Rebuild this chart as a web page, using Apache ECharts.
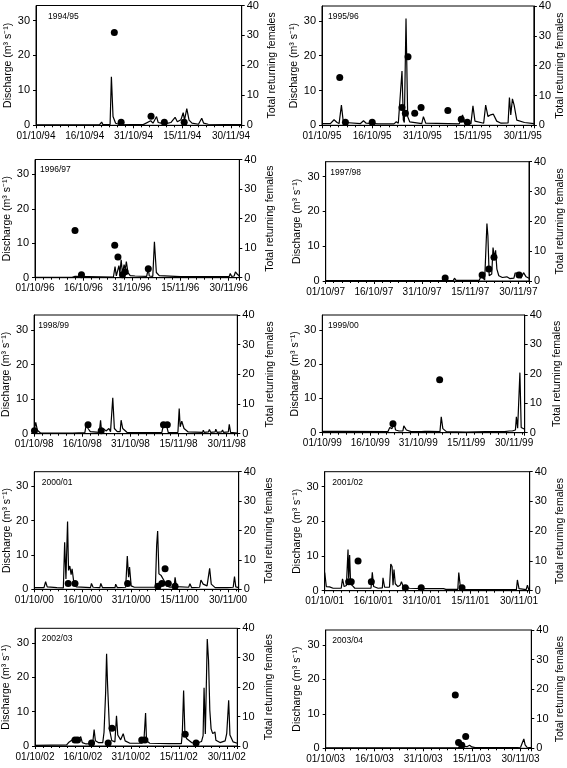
<!DOCTYPE html>
<html>
<head>
<meta charset="utf-8">
<script src="https://cdn.jsdelivr.net/npm/echarts@6/dist/echarts.min.js"></script>
<style>
html, body { margin: 0; padding: 0; background: #fff; }
#chart { width: 567px; height: 768px; }
</style>
</head>
<body>
<div id="chart"></div>
<script>
// season labels and x tick labels (days counted from 01/10)
const seasons = ['1994/95', '1995/96', '1996/97', '1997/98', '1998/99', '1999/00', '2000/01', '2001/02', '2002/03', '2003/04']
const yearSuffix = ['94', '95', '96', '97', '98', '99', '00', '01', '02', '03']
const tickDays = [0, 15, 30, 45, 60]
const tickDates = ['01/10', '16/10', '31/10', '15/11', '30/11']

// discharge [day, m3/s]
const flow9495 = [[0,0.1],[19.5,0.1],[20.2,0.9],[20.6,0.2],[22.8,0.2],[23.2,13.9],[23.7,2.5],[24.5,0.6],[25.5,0.3],[33,0.2],[35.3,1.3],[36,0.6],[37.1,2.5],[37.6,0.8],[38.5,0.6],[39.2,1.2],[40,0.5],[41.5,0.8],[42.8,2.3],[43.5,1.0],[44.6,1.6],[45.3,3.6],[45.7,1.5],[46.4,4.8],[47.1,1.5],[48,0.6],[50,0.3],[51,2.0],[51.6,0.6],[53,0.3],[63.3,0.2]]
const flow9596 = [[0,0.5],[2.5,0.5],[3.6,1.6],[4.5,0.8],[5.1,0.5],[5.8,5.8],[6.3,1.5],[7,0.8],[11.5,0.5],[12.4,1.3],[13.2,0.6],[16.8,0.4],[21.5,0.4],[22.2,1.0],[22.8,0.6],[23.9,15.6],[24.3,1.5],[24.6,0.8],[25.1,30.7],[25.6,2.5],[26.2,1.0],[29.8,0.5],[30.3,2.5],[31,0.6],[41,0.4],[42,3.0],[42.5,0.8],[44.5,0.5],[45.1,5.6],[45.7,1.2],[48.3,0.6],[48.9,5.8],[49.6,2.5],[50.4,3.0],[51.2,3.2],[52.2,1.2],[53.5,0.6],[55.6,0.7],[56,8.0],[56.4,3.0],[56.9,7.6],[57.4,5.8],[58.2,1.5],[60.5,0.8],[63.3,0.5]]
const flow9697 = [[0,0.1],[11.5,0.1],[12.4,0.4],[13,0.1],[24.3,0.2],[24.8,3.2],[25.2,0.5],[26,3.5],[26.3,1.2],[26.7,5.2],[27.1,1.2],[27.6,3.8],[28,2.5],[28.3,4.7],[28.8,1.5],[29.5,0.6],[31,0.5],[34.6,0.4],[35.1,2.7],[35.4,0.5],[36.5,0.4],[37,10.4],[37.6,1.5],[38.5,0.6],[45,0.3],[56.5,0.3],[56.8,0.8],[57.3,0.3],[60.2,0.4],[60.5,1.2],[60.9,0.4],[61.7,0.5],[62.1,1.7],[62.7,1.0],[63.3,0.5]]
const flow9798 = [[0,0.1],[39.7,0.1],[40.1,0.8],[40.6,0.2],[47.8,0.2],[48.4,1.4],[49.5,0.3],[50.2,16.5],[50.5,13],[50.9,1.5],[51.7,2],[52.1,9.6],[52.5,6.8],[52.9,8.8],[53.3,3.4],[53.9,1.5],[55,1.0],[56.4,1.2],[57.3,0.7],[58.6,0.8],[59,2.3],[60.3,2.3],[60.8,0.8],[61.6,2.4],[62.4,1.2],[63.3,0.8]]
const flow9899 = [[0,1.0],[0.5,3.3],[1.0,1.0],[2,0.2],[4.5,0.2],[4.7,0.6],[5.2,0.2],[12,0.2],[15.8,0.3],[16.3,3.0],[16.8,1.5],[17.5,0.6],[20.3,0.4],[20.7,3.9],[21,0.8],[21.7,1.4],[22.4,0.8],[23.3,1.5],[23.8,0.6],[24.5,10.4],[25,1.5],[25.9,0.6],[26.8,0.6],[27.1,3.9],[27.6,1.5],[28.9,0.4],[35,0.3],[39.8,0.4],[40.2,2.2],[41.3,2.2],[41.8,0.3],[44.8,0.4],[45.2,7.3],[45.5,2.0],[46,3.6],[46.7,1.5],[48,0.5],[52.5,0.4],[52.7,1.0],[53,0.4],[54.3,0.5],[54.6,1.2],[55,0.4],[56.4,0.5],[56.6,1.3],[57,0.4],[58.4,0.5],[58.7,1.1],[59,0.4],[60.5,0.5],[60.8,2.7],[61.2,0.4],[63.3,0.2]]
const flow9900 = [[0,0.4],[5.5,0.4],[6,0.2],[20.5,0.3],[21.1,1.5],[21.8,1.2],[22.4,3.2],[22.9,0.8],[24,0.5],[25.2,0.5],[25.5,2.0],[26.3,0.8],[27.8,0.3],[31,0.3],[31.5,0.6],[32,0.4],[33.4,0.4],[33.6,0.8],[34,0.3],[36.8,0.3],[37.2,4.6],[37.7,1.2],[38.8,0.3],[45,0.2],[51,0.3],[57,0.3],[58.5,0.5],[58.8,1.0],[59.4,0.5],[60.4,0.8],[60.7,4.6],[61.1,1.3],[61.5,1.5],[61.8,17.5],[62.2,1.5],[62.8,1.0],[63.3,1.0]]
const flow0001 = [[0,0.5],[3,0.5],[3.5,2.2],[4,0.7],[7,0.5],[9,0.4],[9.4,13.7],[9.8,3],[10.3,19.8],[10.6,5.5],[11,6.8],[11.4,4.3],[11.7,6.0],[12.3,1.5],[13,0.7],[17.4,0.5],[17.7,1.7],[18.2,0.6],[20.3,0.5],[20.6,1.7],[21.1,0.5],[25,0.5],[25.2,1.5],[25.7,0.5],[28.3,0.6],[28.8,9.7],[29.2,3.5],[29.5,6.5],[30,1.0],[31,0.6],[37.5,0.6],[37.9,13],[38.2,17],[38.6,4.5],[39.3,4.0],[40.2,2.5],[41,1.0],[42,0.6],[43.3,0.7],[43.6,3.5],[44,0.8],[47.8,0.6],[48.2,1.6],[48.7,0.5],[51.2,0.6],[51.6,2.7],[52.3,1.5],[53.5,1.0],[54.3,6.1],[54.8,1.5],[56,0.5],[58.6,0.5],[59.2,1.0],[59.7,0.5],[61.6,0.6],[62,3.7],[62.4,0.7],[63.3,0.5]]
const flow0102 = [[0,5.2],[0.5,1.2],[1.5,1.1],[2.6,0.7],[5.1,0.7],[5.5,3.4],[6,1.2],[6.7,1.5],[7.2,11.9],[7.4,3.5],[7.7,10.3],[8,2.0],[8.7,1.3],[9.3,0.7],[14.3,0.7],[14.7,5.3],[15.1,1.2],[16.5,0.7],[17.8,0.8],[18,3.7],[18.5,1.0],[20,1.0],[20.4,7.7],[20.8,7.0],[21.1,1.6],[21.4,6.1],[21.8,2.0],[22.6,1.2],[23.3,1.6],[23.7,2.6],[24.2,1.3],[26.2,0.7],[30,0.6],[36.7,0.6],[37,0.9],[37.4,0.4],[41.1,0.4],[41.4,5.2],[41.9,1.0],[43.2,0.3],[50,0.3],[59.2,0.3],[59.5,3.1],[60,0.6],[62.2,0.3],[62.6,1.6],[63,0.3],[63.3,0.3]]
const flow0203 = [[0,0.2],[9.9,0.3],[10.5,1.0],[11.5,1.7],[12,1.4],[12.5,2.0],[13.2,1.6],[13.6,2.0],[14.3,2.7],[14.8,1.0],[16,0.6],[17.2,0.7],[18.1,1.2],[18.5,4.8],[18.9,1.5],[19.8,1.0],[21.2,1.0],[21.6,4],[22.1,15.5],[22.4,26.9],[22.7,18],[23.3,5],[24,1.6],[25,1.2],[25.5,8.8],[25.9,3.2],[26.8,1.8],[27.6,3.6],[28.2,1.5],[29.7,0.8],[33.5,0.8],[34.1,1.8],[34.6,9.6],[34.9,1.5],[35.9,0.8],[42,0.7],[45.8,0.7],[46.1,3.9],[46.5,16.2],[46.9,4.0],[47.4,2.2],[49,1.0],[50.6,0.8],[52.1,1.3],[52.6,3],[52.9,17],[53.3,3.5],[53.9,31.2],[54.3,25],[54.7,10.4],[55.1,5.0],[55.6,3.6],[56.3,4.1],[56.6,1.7],[57.9,1.0],[59.5,1.5],[60,3.7],[60.6,13.3],[61,3.2],[62,1.2],[63.3,0.8]]
const flow0304 = [[0,0.1],[38,0.1],[40.5,0.1],[40.8,0.4],[42,0.6],[42.5,0.3],[43.6,0.5],[44.3,0.9],[45,0.4],[46,0.2],[50,0.2],[57,0.2],[57.5,0.4],[58,0.2],[60,0.3],[60.6,0.6],[61,2.7],[61.4,1.0],[62,0.3],[63.3,0.2]]

// total returning females [day, count]
const fem9495 = [[24.1,31],[26.2,1],[35.4,3],[39.5,1],[45.6,1]]
const fem9596 = [[5.3,16],[7.0,1],[15,1],[23.9,6],[24.9,4],[25.7,23],[27.7,4],[29.6,6],[37.6,5],[41.6,2],[43.4,1]]
const fem9697 = [[12.4,16],[14.4,1],[24.7,11],[25.7,7],[27.1,1],[27.9,2],[35.1,3]]
const fem9798 = [[37.2,1],[48.7,2],[50.8,4],[52.4,8],[60.2,2]]
const fem9899 = [[0.1,1],[16.8,3],[20.9,1],[40.3,3],[41.5,3]]
const fem9900 = [[22.1,3],[36.7,18]]
const fem0001 = [[10.5,2],[12.6,2],[28.9,2],[38.3,1],[39.5,2],[40.5,7],[41.5,2],[43.6,1]]
const fem0102 = [[7.4,3],[8.2,3],[10.3,10],[14.4,3],[24.9,1],[29.8,1],[42.4,1]]
const fem0203 = [[12.5,2],[13.3,2],[17.7,1],[22.9,1],[24.1,6],[33.4,2],[34.4,2],[47,4],[50.4,1]]
const fem0304 = [[39.9,18],[40.9,2],[41.9,1],[43.1,4]]

const flows = [flow9495, flow9596, flow9697, flow9798, flow9899, flow9900, flow0001, flow0102, flow0203, flow0304]
const females = [fem9495, fem9596, fem9697, fem9798, fem9899, fem9900, fem0001, fem0102, fem0203, fem0304]

// panel layout: left, right, top, bottom, title dx, left name gap, right name gap
const boxes = [
    [36, 241.7, 5, 125.3, 12, 20, 25],
    [322, 538, 6, 125.3, 6, 21, 14],
    [35, 239.3, 159.5, 277.7, 5, 21.7, 25.7],
    [325.7, 529, 161.7, 281, 4.6, 23.4, 25.7],
    [33.3, 237.3, 315, 433.7, 5, 20.6, 27],
    [322.3, 524.7, 315, 432.7, 5.7, 21.6, 27],
    [34.3, 238.7, 471.7, 589.3, 7.4, 21.6, 24.6],
    [324.7, 529.7, 471.7, 590.7, 7.6, 22.4, 25],
    [35, 237.3, 628.3, 746, 6.7, 23, 26],
    [325.7, 531.3, 630, 748.3, 6.6, 23.4, 23.5]
]

const FONT = 'Arial, "Liberation Sans", sans-serif'
const black = '#000'

let grids = [], xAxes = [], yAxes = [], series = [], texts = []

boxes.forEach(function (b, i) {
    grids.push({
        left: b[0], top: b[2], width: b[1] - b[0], height: b[3] - b[2],
        show: true, borderColor: black, borderWidth: 1, backgroundColor: 'transparent'
    })
    xAxes.push({
        type: 'value', gridIndex: i, min: 0, max: 63.3, interval: 15,
        axisLine: { onZero: false, lineStyle: { color: black, width: 1 } },
        axisTick: { length: 3, lineStyle: { color: black } },
        minorTick: { show: true, splitNumber: 6, length: 2, lineStyle: { color: black } },
        splitLine: { show: false },
        axisLabel: {
            fontSize: 10, color: black, fontFamily: FONT, margin: 6,
            formatter: function (v) {
                let k = tickDays.indexOf(v)
                return k < 0 ? '' : tickDates[k] + '/' + yearSuffix[i]
            }
        }
    })
    // left: discharge
    yAxes.push({
        type: 'value', gridIndex: i, position: 'left', min: 0, max: 34.3, interval: 10,
        name: 'Discharge (m³ s⁻¹)', nameLocation: 'middle', nameGap: b[5],
        nameTextStyle: { fontSize: 10.5, color: black, fontFamily: FONT },
        axisLine: { show: true, lineStyle: { color: black } },
        axisTick: { show: true, length: 3, customValues: [0, 10, 20, 30], lineStyle: { color: black } },
        splitLine: { show: false },
        axisLabel: {
            fontSize: 11, color: black, fontFamily: FONT, margin: 6,
            formatter: function (v) { return v % 10 === 0 ? v : '' }
        }
    })
    // right: females
    yAxes.push({
        type: 'value', gridIndex: i, position: 'right', min: 0, max: 40, interval: 10,
        name: 'Total returning females', nameLocation: 'middle', nameGap: b[6],
        nameTextStyle: { fontSize: 10.5, color: black, fontFamily: FONT },
        axisLine: { show: true, lineStyle: { color: black } },
        axisTick: { show: true, length: 3, lineStyle: { color: black } },
        splitLine: { show: false },
        axisLabel: { fontSize: 11, color: black, fontFamily: FONT, margin: 5 }
    })
    series.push({
        type: 'line', xAxisIndex: i, yAxisIndex: 2 * i, data: flows[i],
        symbol: 'none', lineStyle: { color: black, width: 1.2 }, z: 2, silent: true
    })
    series.push({
        type: 'scatter', xAxisIndex: i, yAxisIndex: 2 * i + 1, data: females[i],
        symbol: 'circle', symbolSize: 7, itemStyle: { color: black, opacity: 1 }, z: 3
    })
    texts.push({
        type: 'text', left: b[0] + b[4], top: b[2] + (i === 0 ? 7.5 : 6),
        style: { text: seasons[i], font: '8.5px ' + FONT, fill: black }
    })
})

let myChart = echarts.init(document.getElementById('chart'), null, { renderer: 'canvas' })
myChart.setOption({
    animation: false,
    backgroundColor: '#fff',
    grid: grids,
    xAxis: xAxes,
    yAxis: yAxes,
    series: series,
    graphic: texts
})
</script>
</body>
</html>
